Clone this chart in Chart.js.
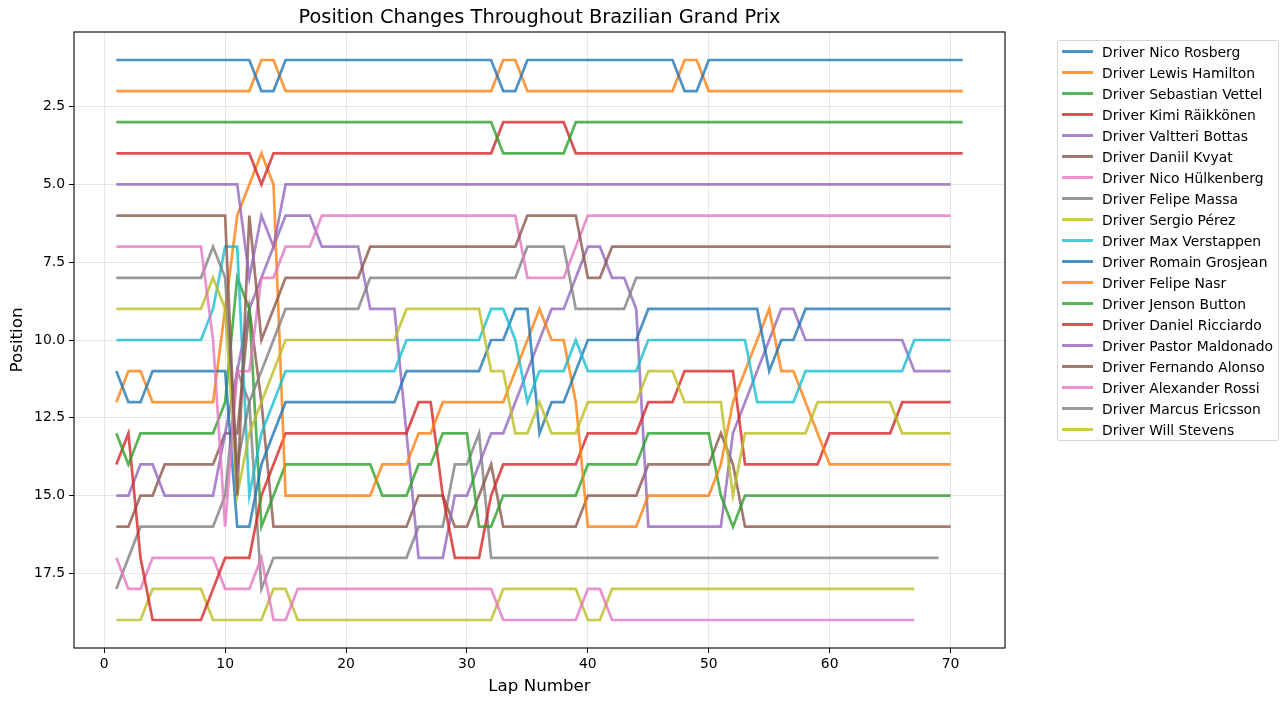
<!DOCTYPE html>
<html lang="en">
<head>
<meta charset="UTF-8">
<title>Position Changes Throughout Brazilian Grand Prix</title>
<style>
  body { margin: 0; background: #fff; font-family: "DejaVu Sans", sans-serif; }
  .wrap { position: relative; width: 1288px; height: 706px; overflow: hidden; }
  #chart { position: absolute; left: 0; top: 0; }
  .legend {
    position: absolute; left: 1057px; top: 40px; width: 222px; height: 401px;
    border: 1px solid #d6d6d6; border-radius: 3px; box-sizing: border-box; padding-top: 0px;
  }
  .legend .item { display: flex; align-items: center; height: 21px; font-size: 13.9px; color: #000; white-space: nowrap; }
  .legend .swatch { width: 31px; height: 2.7px; margin: 0 9px 0 4px; }
</style>
</head>
<body>
<div class="wrap">
  <canvas id="chart" width="1288" height="706"></canvas>
  <div class="legend" id="legend"></div>
</div>

<script src="https://cdn.jsdelivr.net/npm/chart.js"></script>
<script>
  // Driver names, in legend order
  const drivers = [
    'Nico Rosberg', 'Lewis Hamilton', 'Sebastian Vettel', 'Kimi Räikkönen', 'Valtteri Bottas',
    'Daniil Kvyat', 'Nico Hülkenberg', 'Felipe Massa', 'Sergio Pérez', 'Max Verstappen',
    'Romain Grosjean', 'Felipe Nasr', 'Jenson Button', 'Daniel Ricciardo', 'Pastor Maldonado',
    'Fernando Alonso', 'Alexander Rossi', 'Marcus Ericsson', 'Will Stevens'
  ];

  // Position per lap (lap 1 first)
  const rosberg = [
    1,1,1,1,1,1,1,1,1,1, 1,1,2,2,1,1,1,1,1,1, 1,1,1,1,1,1,1,1,1,1, 1,1,2,2,1,1,1,1,1,1,
    1,1,1,1,1,1,1,2,2,1, 1,1,1,1,1,1,1,1,1,1, 1,1,1,1,1,1,1,1,1,1, 1];
  const hamilton = [
    2,2,2,2,2,2,2,2,2,2, 2,2,1,1,2,2,2,2,2,2, 2,2,2,2,2,2,2,2,2,2, 2,2,1,1,2,2,2,2,2,2,
    2,2,2,2,2,2,2,1,1,2, 2,2,2,2,2,2,2,2,2,2, 2,2,2,2,2,2,2,2,2,2, 2];
  const vettel = [
    3,3,3,3,3,3,3,3,3,3, 3,3,3,3,3,3,3,3,3,3, 3,3,3,3,3,3,3,3,3,3, 3,3,4,4,4,4,4,4,3,3,
    3,3,3,3,3,3,3,3,3,3, 3,3,3,3,3,3,3,3,3,3, 3,3,3,3,3,3,3,3,3,3, 3];
  const raikkonen = [
    4,4,4,4,4,4,4,4,4,4, 4,4,5,4,4,4,4,4,4,4, 4,4,4,4,4,4,4,4,4,4, 4,4,3,3,3,3,3,3,4,4,
    4,4,4,4,4,4,4,4,4,4, 4,4,4,4,4,4,4,4,4,4, 4,4,4,4,4,4,4,4,4,4, 4];
  const bottas = [
    5,5,5,5,5,5,5,5,5,5, 5,8,6,7,5,5,5,5,5,5, 5,5,5,5,5,5,5,5,5,5, 5,5,5,5,5,5,5,5,5,5,
    5,5,5,5,5,5,5,5,5,5, 5,5,5,5,5,5,5,5,5,5, 5,5,5,5,5,5,5,5,5,5];
  const kvyat = [
    6,6,6,6,6,6,6,6,6,6, 15,6,10,9,8,8,8,8,8,8, 8,7,7,7,7,7,7,7,7,7, 7,7,7,7,6,6,6,6,6,8,
    8,7,7,7,7,7,7,7,7,7, 7,7,7,7,7,7,7,7,7,7, 7,7,7,7,7,7,7,7,7,7];
  const hulkenberg = [
    7,7,7,7,7,7,7,7,10,16, 11,11,8,8,7,7,7,6,6,6, 6,6,6,6,6,6,6,6,6,6, 6,6,6,6,8,8,8,8,7,6,
    6,6,6,6,6,6,6,6,6,6, 6,6,6,6,6,6,6,6,6,6, 6,6,6,6,6,6,6,6,6,6];
  const massa = [
    8,8,8,8,8,8,8,8,7,8, 14,12,11,10,9,9,9,9,9,9, 9,8,8,8,8,8,8,8,8,8, 8,8,8,8,7,7,7,7,9,9,
    9,9,9,8,8,8,8,8,8,8, 8,8,8,8,8,8,8,8,8,8, 8,8,8,8,8,8,8,8,8,8];
  const perez = [
    9,9,9,9,9,9,9,9,8,9, 15,13,12,11,10,10,10,10,10,10, 10,10,10,10,9,9,9,9,9,9, 9,11,11,13,13,12,13,13,13,12,
    12,12,12,12,11,11,11,12,12,12, 12,15,13,13,13,13,13,13,12,12, 12,12,12,12,12,13,13,13,13,13];
  const verstappen = [
    10,10,10,10,10,10,10,10,9,7, 7,15,13,12,11,11,11,11,11,11, 11,11,11,11,10,10,10,10,10,10, 10,9,9,10,12,11,11,11,10,11,
    11,11,11,11,10,10,10,10,10,10, 10,10,10,12,12,12,12,11,11,11, 11,11,11,11,11,11,10,10,10,10];
  const grosjean = [
    11,12,12,11,11,11,11,11,11,11, 16,16,14,13,12,12,12,12,12,12, 12,12,12,12,11,11,11,11,11,11, 11,10,10,9,9,13,12,12,11,10,
    10,10,10,10,9,9,9,9,9,9, 9,9,9,9,11,10,10,9,9,9, 9,9,9,9,9,9,9,9,9,9];
  const nasr = [
    12,11,11,12,12,12,12,12,12,9, 6,5,4,5,15,15,15,15,15,15, 15,15,14,14,14,13,13,12,12,12, 12,12,12,11,10,9,10,10,12,16,
    16,16,16,16,15,15,15,15,15,15, 14,12,11,10,9,11,11,12,13,14, 14,14,14,14,14,14,14,14,14,14];
  const button = [
    13,14,13,13,13,13,13,13,13,12, 8,9,16,15,14,14,14,14,14,14, 14,14,15,15,15,14,14,13,13,13, 16,16,15,15,15,15,15,15,15,14,
    14,14,14,14,13,13,13,13,13,13, 15,16,15,15,15,15,15,15,15,15, 15,15,15,15,15,15,15,15,15,15];
  const ricciardo = [
    14,13,17,19,19,19,19,19,18,17, 17,17,15,14,13,13,13,13,13,13, 13,13,13,13,13,12,12,15,17,17, 17,15,14,14,14,14,14,14,14,13,
    13,13,13,13,12,12,12,11,11,11, 11,11,14,14,14,14,14,14,14,13, 13,13,13,13,13,12,12,12,12,12];
  const maldonado = [
    15,15,14,14,15,15,15,15,15,13, 11,9,8,7,6,6,6,7,7,7, 7,9,9,9,13,17,17,17,15,15, 14,13,13,12,11,10,9,9,8,7,
    7,8,8,9,16,16,16,16,16,16, 16,13,12,11,10,9,9,10,10,10, 10,10,10,10,10,10,11,11,11,11];
  const alonso = [
    16,16,15,15,14,14,14,14,14,13, 13,9,12,16,16,16,16,16,16,16, 16,16,16,16,16,15,15,15,16,16, 15,14,16,16,16,16,16,16,16,15,
    15,15,15,15,14,14,14,14,14,14, 13,14,16,16,16,16,16,16,16,16, 16,16,16,16,16,16,16,16,16,16];
  const rossi = [
    17,18,18,17,17,17,17,17,17,18, 18,18,17,19,19,18,18,18,18,18, 18,18,18,18,18,18,18,18,18,18, 18,18,19,19,19,19,19,19,19,18,
    18,19,19,19,19,19,19,19,19,19, 19,19,19,19,19,19,19,19,19,19, 19,19,19,19,19,19,19];
  const ericsson = [
    18,17,16,16,16,16,16,16,16,15, 11,12,18,17,17,17,17,17,17,17, 17,17,17,17,17,16,16,16,14,14, 13,17,17,17,17,17,17,17,17,17,
    17,17,17,17,17,17,17,17,17,17, 17,17,17,17,17,17,17,17,17,17, 17,17,17,17,17,17,17,17,17];
  const stevens = [
    19,19,19,18,18,18,18,18,19,19, 19,19,19,18,18,19,19,19,19,19, 19,19,19,19,19,19,19,19,19,19, 19,19,18,18,18,18,18,18,18,19,
    19,18,18,18,18,18,18,18,18,18, 18,18,18,18,18,18,18,18,18,18, 18,18,18,18,18,18,18];

  const series = [rosberg, hamilton, vettel, raikkonen, bottas, kvyat, hulkenberg, massa, perez, verstappen,
                  grosjean, nasr, button, ricciardo, maldonado, alonso, rossi, ericsson, stevens];

  const xTicks = [0, 10, 20, 30, 40, 50, 60, 70];
  const yTicks = [2.5, 5.0, 7.5, 10.0, 12.5, 15.0, 17.5];

  const palette = ['#1f77b4', '#ff7f0e', '#2ca02c', '#d62728', '#9467bd',
                   '#8c564b', '#e377c2', '#7f7f7f', '#bcbd22', '#17becf'];
  const FONT = '"DejaVu Sans", sans-serif';
  const gridColor = 'rgba(176,176,176,0.3)';

  const datasets = series.map((vals, i) => ({
    label: 'Driver ' + drivers[i],
    data: vals.map((p, k) => ({ x: k + 1, y: p })),
    borderColor: palette[i % 10] + 'cc',
    borderWidth: 2.7,
    pointRadius: 0,
    tension: 0,
    fill: false
  }));

  // black frame round the plot area + title above it
  const frame = {
    id: 'frame',
    afterDraw(chart) {
      const { ctx, chartArea: a } = chart;
      ctx.save();
      ctx.strokeStyle = '#000';
      ctx.lineWidth = 1.1;
      ctx.strokeRect(a.left, a.top, a.right - a.left, a.bottom - a.top);
      ctx.fillStyle = '#000';
      ctx.font = '19.4px ' + FONT;
      ctx.textAlign = 'center';
      ctx.textBaseline = 'middle';
      ctx.fillText('Position Changes Throughout Brazilian Grand Prix', (a.left + a.right) / 2, 18);
      ctx.restore();
    }
  };

  const chart = new Chart(document.getElementById('chart').getContext('2d'), {
    type: 'line',
    data: { datasets },
    options: {
      responsive: false,
      animation: false,
      layout: { padding: { left: 0, right: 283, top: 32, bottom: 0 } },
      plugins: { legend: { display: false }, title: { display: false }, tooltip: { enabled: false } },
      scales: {
        x: {
          type: 'linear', min: -2.5, max: 74.5,
          afterBuildTicks: s => { s.ticks = xTicks.map(v => ({ value: v })); },
          afterFit: s => { s.height = 58; },
          grid: { color: gridColor, lineWidth: 1, tickColor: '#000', tickLength: 5, drawTicks: true },
          border: { display: false },
          ticks: { color: '#000', font: { size: 13.9, family: FONT }, padding: 3, maxRotation: 0,
                   callback: v => String(v) },
          title: { display: true, text: 'Lap Number', color: '#000', font: { size: 16.7, family: FONT },
                   padding: { top: 0, bottom: 9 } }
        },
        y: {
          type: 'linear', reverse: true, min: 0.1, max: 19.9,
          afterBuildTicks: s => { s.ticks = yTicks.map(v => ({ value: v })); },
          afterFit: s => { s.width = 74; },
          grid: { color: gridColor, lineWidth: 1, tickColor: '#000', tickLength: 5, drawTicks: true },
          border: { display: false },
          ticks: { color: '#000', font: { size: 13.9, family: FONT }, padding: 4,
                   callback: v => Number(v).toFixed(1) },
          title: { display: true, text: 'Position', color: '#000', font: { size: 16.7, family: FONT },
                   padding: { top: 8, bottom: 0 } }
        }
      }
    },
    plugins: [frame]
  });

  // legend, built from the chart's datasets
  const legend = document.getElementById('legend');
  legend.innerHTML = chart.data.datasets.map(d =>
    `<div class="item"><span class="swatch" style="background:${d.borderColor}"></span>${d.label}</div>`
  ).join('');
</script>
</body>
</html>
